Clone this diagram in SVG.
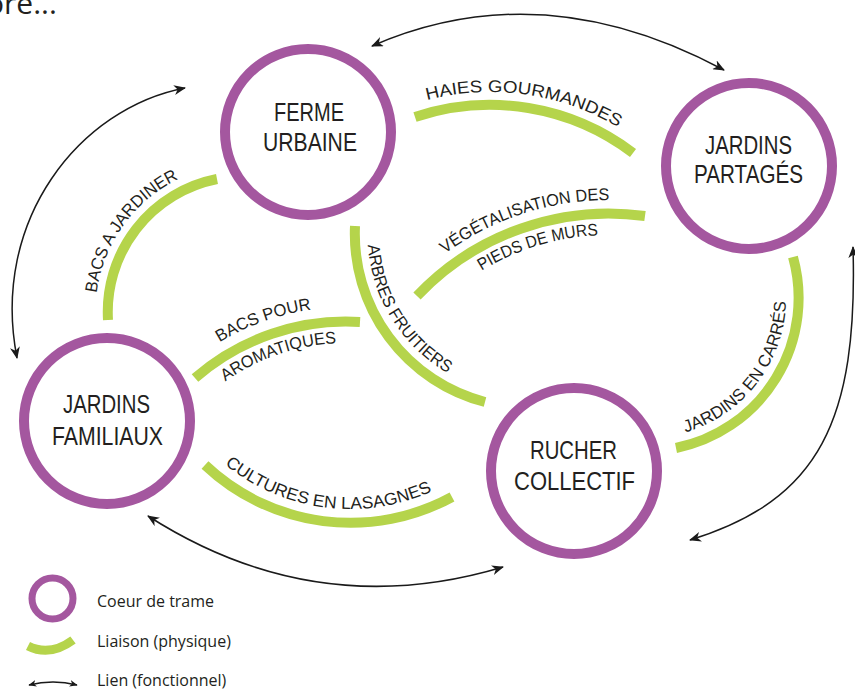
<svg xmlns="http://www.w3.org/2000/svg" width="855" height="691" viewBox="0 0 855 691">
<style>
.ring{fill:none;stroke:#a4579f;stroke-width:10}
.band{fill:none;stroke:#b5d44b;stroke-width:10;stroke-linecap:butt}
.lien{fill:none;stroke:#1a1a1a;stroke-width:1.5}
.node{font-family:"Liberation Sans",Arial,sans-serif;font-size:25px;fill:#231f20;text-anchor:middle}
.lbl{font-family:"Liberation Sans",Arial,sans-serif;font-size:17px;fill:#231f20}
.leg{font-family:"Open Sans","Noto Sans",sans-serif;font-size:16px;fill:#231f20}
</style>
<defs>
<marker id="ah" markerUnits="userSpaceOnUse" viewBox="0 0 12 10" markerWidth="12" markerHeight="10" refX="11" refY="5" orient="auto-start-reverse">
<path d="M0,0 L12,5 L0,10 L3.5,5 Z" fill="#1a1a1a"/>
</marker>
<marker id="ahs" markerUnits="userSpaceOnUse" viewBox="0 0 12 10" markerWidth="8" markerHeight="7" refX="11" refY="5" orient="auto-start-reverse">
<path d="M0,0 L12,5 L0,10 L3.5,5 Z" fill="#1a1a1a"/>
</marker>
<path id="tp-haies" d="M427,100.1 A250,250 0 0 1 621.4,129.3"/>
<path id="tp-bacsj" d="M96.7,292.9 A148,148 0 0 1 181,177.9"/>
<path id="tp-arbres" d="M367.9,245 A161,161 0 0 0 449.2,374.1"/>
<path id="tp-veg" d="M444.8,253.7 A279,279 0 0 1 611.9,200"/>
<path id="tp-pieds" d="M481.6,270.9 A243,243 0 0 1 600.1,235.2"/>
<path id="tp-bacsp" d="M219.6,342.3 A244,244 0 0 1 312.9,309.3"/>
<path id="tp-arom" d="M225.3,381.6 A208,208 0 0 1 338,343.2"/>
<path id="tp-carres" d="M685.5,432.3 A140,140 0 0 0 786,300"/>
<path id="tp-cult" d="M224.9,464.4 A198,198 0 0 0 435.9,489.4"/>
</defs>
<rect width="855" height="691" fill="#ffffff"/>
<text x="-14" y="14" font-family="Open Sans, sans-serif" font-size="30" fill="#231f20">ore...</text>

<g id="connectors">
<g id="liaisons">
<path class="band" d="M415,117 A237,237 0 0 1 633,153"/>
<text class="lbl"><textPath href="#tp-haies" textLength="198" lengthAdjust="spacingAndGlyphs">HAIES GOURMANDES</textPath></text>
<path class="band" d="M108,320 A135.6,135.6 0 0 1 217,179"/>
<text class="lbl"><textPath href="#tp-bacsj" textLength="146" lengthAdjust="spacingAndGlyphs">BACS A JARDINER</textPath></text>
<path class="band" d="M355,226 A173.6,173.6 0 0 0 485,402"/>
<text class="lbl"><textPath href="#tp-arbres" textLength="157" lengthAdjust="spacingAndGlyphs">ARBRES FRUITIERS</textPath></text>
<path class="band" d="M417,296 A264.5,264.5 0 0 1 645,216"/>
<text class="lbl"><textPath href="#tp-veg" textLength="176" lengthAdjust="spacingAndGlyphs">VÉGÉTALISATION DES</textPath></text>
<text class="lbl"><textPath href="#tp-pieds" textLength="123" lengthAdjust="spacingAndGlyphs">PIEDS DE MURS</textPath></text>
<path class="band" d="M195,378 A229.6,229.6 0 0 1 360,322"/>
<text class="lbl"><textPath href="#tp-bacsp" textLength="98" lengthAdjust="spacingAndGlyphs">BACS POUR</textPath></text>
<text class="lbl"><textPath href="#tp-arom" textLength="119" lengthAdjust="spacingAndGlyphs">AROMATIQUES</textPath></text>
<path class="band" d="M793,257 A153,153 0 0 1 676,448"/>
<text class="lbl"><textPath href="#tp-carres" textLength="176" lengthAdjust="spacingAndGlyphs">JARDINS EN CARRÉS</textPath></text>
<path class="band" d="M205,465 A212,212 0 0 0 452,497"/>
<text class="lbl"><textPath href="#tp-cult" textLength="220" lengthAdjust="spacingAndGlyphs">CULTURES EN LASAGNES</textPath></text>
</g>
<g id="liens">
<path class="lien" d="M372,46 Q542,-28 724,70" marker-start="url(#ah)" marker-end="url(#ah)"/>
<path class="lien" d="M185,88 C80,108 -10,220 17,358" marker-start="url(#ah)" marker-end="url(#ah)"/>
<path class="lien" d="M148,516 Q315.6,623.3 503,567" marker-start="url(#ah)" marker-end="url(#ah)"/>
<path class="lien" d="M853,247 C858,420 820,500 690,540" marker-start="url(#ah)" marker-end="url(#ah)"/>
</g>
</g>

<g id="node-ferme">
<circle class="ring" cx="308" cy="132" r="83"/>
<text class="node" x="309" y="121" textLength="70" lengthAdjust="spacingAndGlyphs">FERME</text>
<text class="node" x="310" y="151" textLength="94" lengthAdjust="spacingAndGlyphs">URBAINE</text>
</g>
<g id="node-partages">
<circle class="ring" cx="749" cy="166" r="83"/>
<text class="node" x="748.5" y="154" textLength="87" lengthAdjust="spacingAndGlyphs">JARDINS</text>
<text class="node" x="748.5" y="183" textLength="109" lengthAdjust="spacingAndGlyphs">PARTAGÉS</text>
</g>
<g id="node-familiaux">
<circle class="ring" cx="107" cy="421" r="83"/>
<text class="node" x="106.5" y="413" textLength="87" lengthAdjust="spacingAndGlyphs">JARDINS</text>
<text class="node" x="107.5" y="445" textLength="111" lengthAdjust="spacingAndGlyphs">FAMILIAUX</text>
</g>
<g id="node-rucher">
<circle class="ring" cx="574" cy="471" r="83"/>
<text class="node" x="573.5" y="459" textLength="87" lengthAdjust="spacingAndGlyphs">RUCHER</text>
<text class="node" x="574.5" y="490" textLength="121" lengthAdjust="spacingAndGlyphs">COLLECTIF</text>
</g>

<g id="legend">
<circle cx="52.5" cy="598.5" r="20.5" fill="none" stroke="#a4579f" stroke-width="7"/>
<text class="leg" x="97" y="607">Coeur de trame</text>
<path d="M28,646 Q50,657 73,640" fill="none" stroke="#b5d44b" stroke-width="9"/>
<text class="leg" x="97" y="647">Liaison (physique)</text>
<path class="lien" d="M29,685 Q53,679 77,685" marker-start="url(#ahs)" marker-end="url(#ahs)"/>
<text class="leg" x="97" y="686">Lien (fonctionnel)</text>
</g>
</svg>
